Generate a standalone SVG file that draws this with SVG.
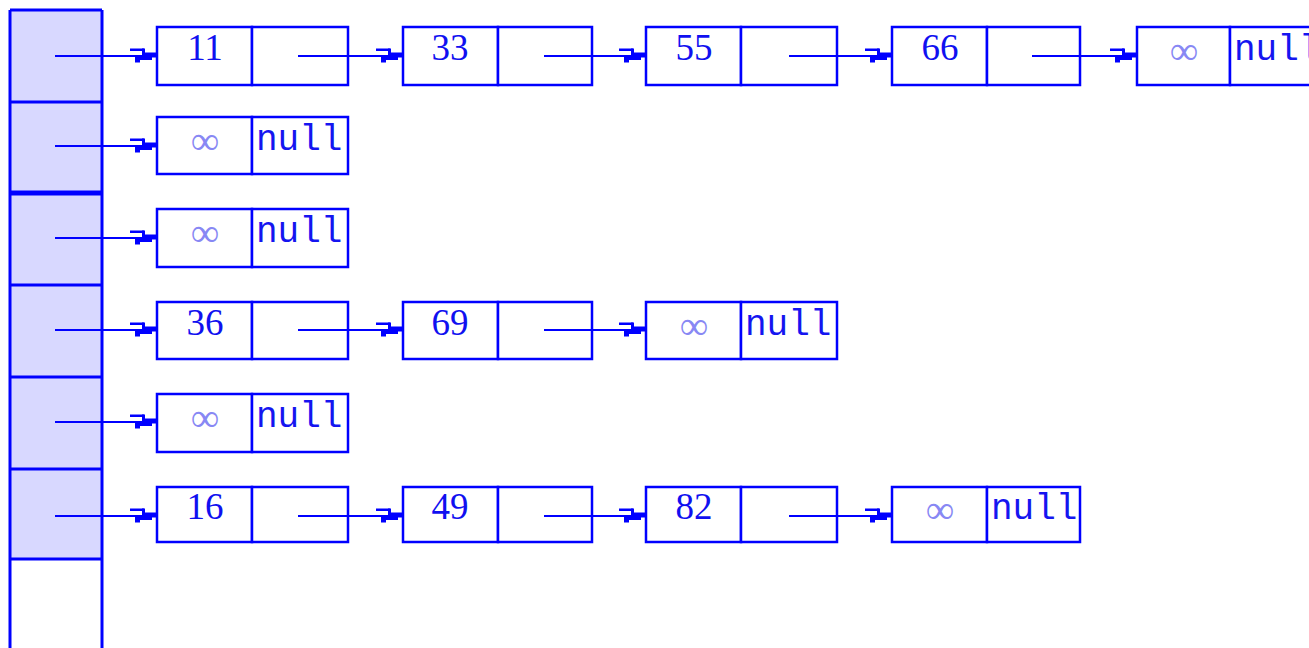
<svg xmlns="http://www.w3.org/2000/svg" xmlns:xlink="http://www.w3.org/1999/xlink" width="1309" height="648" viewBox="0 0 1309 648">
<style>
.cell{fill:#fff;stroke:#0000ff;stroke-width:2.5}
.arr line{stroke:#0000ff;stroke-width:2}
.v{font-family:"Liberation Serif",serif;font-size:37px;fill:#1010f0;text-anchor:middle}
.inf{font-family:"Liberation Serif",serif;font-size:40px;fill:#8888f4;text-anchor:middle}
.nl{font-family:"Liberation Mono",monospace;font-size:36px;fill:#1515f0}
.tab{stroke:#0000ff;stroke-width:3;fill:none}
.thick{stroke-width:5}
</style>
<defs>
<g id="ah" fill="#0000ff">
<rect x="-27" y="-7.5" width="14" height="2.5"/>
<rect x="-15" y="-7.5" width="3" height="8"/>
<rect x="-14" y="-3.5" width="14" height="5"/>
<rect x="-22" y="0.5" width="17" height="3.5"/>
<rect x="-22" y="3.5" width="5" height="3"/>
</g>
</defs>
<rect width="1309" height="648" fill="#fff"/>
<g id="table">
<rect x="10" y="10" width="92" height="549" fill="#d8d8ff"/>
<line class="tab" x1="10" y1="10" x2="10" y2="648"/>
<line class="tab" x1="102" y1="10" x2="102" y2="648"/>
<line class="tab" x1="10" y1="10" x2="102" y2="10"/>
<line class="tab" x1="10" y1="102" x2="102" y2="102"/>
<line class="tab thick" x1="10" y1="193" x2="102" y2="193"/>
<line class="tab" x1="10" y1="285" x2="102" y2="285"/>
<line class="tab" x1="10" y1="377" x2="102" y2="377"/>
<line class="tab" x1="10" y1="469" x2="102" y2="469"/>
<line class="tab" x1="10" y1="559" x2="102" y2="559"/>
</g>
<g id="r1n1"><rect class="cell" x="157" y="27" width="95" height="58"/><rect class="cell" x="252" y="27" width="96" height="58"/><text class="v" x="205" y="60">11</text></g>
<g id="r1n2"><rect class="cell" x="403" y="27" width="95" height="58"/><rect class="cell" x="498" y="27" width="94" height="58"/><text class="v" x="450" y="60">33</text></g>
<g id="r1n3"><rect class="cell" x="646" y="27" width="95" height="58"/><rect class="cell" x="741" y="27" width="96" height="58"/><text class="v" x="694" y="60">55</text></g>
<g id="r1n4"><rect class="cell" x="892" y="27" width="95" height="58"/><rect class="cell" x="987" y="27" width="93" height="58"/><text class="v" x="940" y="60">66</text></g>
<g id="r1n5"><rect class="cell" x="1137" y="27" width="93" height="58"/><rect class="cell" x="1230" y="27" width="96" height="58"/><text class="inf" x="1184" y="64">∞</text><text class="nl" x="1234" y="60">null</text></g>
<g id="r2n1"><rect class="cell" x="157" y="117" width="95" height="57"/><rect class="cell" x="252" y="117" width="96" height="57"/><text class="inf" x="205" y="154">∞</text><text class="nl" x="256" y="150">null</text></g>
<g id="r3n1"><rect class="cell" x="157" y="209" width="95" height="58"/><rect class="cell" x="252" y="209" width="96" height="58"/><text class="inf" x="205" y="246">∞</text><text class="nl" x="256" y="242">null</text></g>
<g id="r4n1"><rect class="cell" x="157" y="302" width="95" height="57"/><rect class="cell" x="252" y="302" width="96" height="57"/><text class="v" x="205" y="335">36</text></g>
<g id="r4n2"><rect class="cell" x="403" y="302" width="95" height="57"/><rect class="cell" x="498" y="302" width="94" height="57"/><text class="v" x="450" y="335">69</text></g>
<g id="r4n3"><rect class="cell" x="646" y="302" width="95" height="57"/><rect class="cell" x="741" y="302" width="96" height="57"/><text class="inf" x="694" y="339">∞</text><text class="nl" x="745" y="335">null</text></g>
<g id="r5n1"><rect class="cell" x="157" y="394" width="95" height="58"/><rect class="cell" x="252" y="394" width="96" height="58"/><text class="inf" x="205" y="431">∞</text><text class="nl" x="256" y="427">null</text></g>
<g id="r6n1"><rect class="cell" x="157" y="487" width="95" height="55"/><rect class="cell" x="252" y="487" width="96" height="55"/><text class="v" x="205" y="519">16</text></g>
<g id="r6n2"><rect class="cell" x="403" y="487" width="95" height="55"/><rect class="cell" x="498" y="487" width="94" height="55"/><text class="v" x="450" y="519">49</text></g>
<g id="r6n3"><rect class="cell" x="646" y="487" width="95" height="55"/><rect class="cell" x="741" y="487" width="96" height="55"/><text class="v" x="694" y="519">82</text></g>
<g id="r6n4"><rect class="cell" x="892" y="487" width="95" height="55"/><rect class="cell" x="987" y="487" width="93" height="55"/><text class="inf" x="940" y="523">∞</text><text class="nl" x="991" y="519">null</text></g>
<g id="connectors" class="arr">
<line x1="55" y1="56" x2="157" y2="56"/><use xlink:href="#ah" x="157" y="56"/>
<line x1="298" y1="56" x2="403" y2="56"/><use xlink:href="#ah" x="403" y="56"/>
<line x1="544" y1="56" x2="646" y2="56"/><use xlink:href="#ah" x="646" y="56"/>
<line x1="789" y1="56" x2="892" y2="56"/><use xlink:href="#ah" x="892" y="56"/>
<line x1="1032" y1="56" x2="1137" y2="56"/><use xlink:href="#ah" x="1137" y="56"/>
<line x1="55" y1="146" x2="157" y2="146"/><use xlink:href="#ah" x="157" y="146"/>
<line x1="55" y1="238" x2="157" y2="238"/><use xlink:href="#ah" x="157" y="238"/>
<line x1="55" y1="330" x2="157" y2="330"/><use xlink:href="#ah" x="157" y="330"/>
<line x1="298" y1="330" x2="403" y2="330"/><use xlink:href="#ah" x="403" y="330"/>
<line x1="544" y1="330" x2="646" y2="330"/><use xlink:href="#ah" x="646" y="330"/>
<line x1="55" y1="422" x2="157" y2="422"/><use xlink:href="#ah" x="157" y="422"/>
<line x1="55" y1="516" x2="157" y2="516"/><use xlink:href="#ah" x="157" y="516"/>
<line x1="298" y1="516" x2="403" y2="516"/><use xlink:href="#ah" x="403" y="516"/>
<line x1="544" y1="516" x2="646" y2="516"/><use xlink:href="#ah" x="646" y="516"/>
<line x1="789" y1="516" x2="892" y2="516"/><use xlink:href="#ah" x="892" y="516"/>
</g>
</svg>
